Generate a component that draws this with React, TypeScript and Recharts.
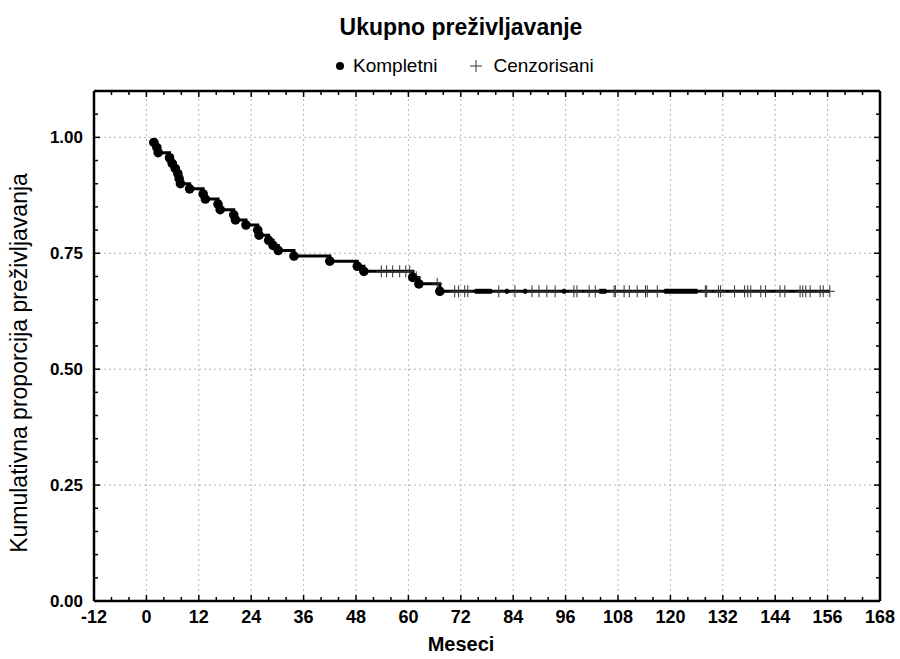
import React from "react";
import { ComposedChart, Line, Scatter, XAxis, YAxis, ReferenceLine } from "recharts";

// Kaplan-Meier: completed cases (events) and censored cases
const eventMonths = [1.7, 2.4, 2.7, 5.3, 5.9, 6.6, 7.2, 7.5, 7.8, 9.9, 13.0, 13.5, 16.4, 16.9, 20.0, 20.4, 22.8, 25.5, 25.8, 28.0, 29.0, 30.2, 33.8, 42.0, 48.3, 49.8, 61.0, 62.4, 67.2];
const eventSurvival = [0.989, 0.978, 0.967, 0.956, 0.944, 0.933, 0.922, 0.911, 0.9, 0.889, 0.878, 0.867, 0.856, 0.844, 0.833, 0.822, 0.811, 0.8, 0.789, 0.778, 0.767, 0.756, 0.744, 0.733, 0.722, 0.711, 0.698, 0.684, 0.668];
const censorMonths = [53.8, 55.0, 56.4, 58.0, 59.4, 60.3, 61.8, 66.6, 70.6, 71.5, 72.9, 73.6, 80.7, 84.4, 88.3, 89.9, 91.7, 93.6, 97.9, 98.6, 101.4, 102.8, 107.1, 107.4, 109.4, 110.6, 112.4, 114.3, 114.7, 117.0, 128.0, 128.3, 131.0, 131.5, 134.7, 137.0, 137.7, 138.4, 140.7, 141.8, 145.1, 146.2, 149.7, 150.3, 151.0, 152.0, 154.3, 155.0, 156.5];
// stretches where censored marks pile up into a solid bar
const denseCensorRuns = [
  { from: 75.2, to: 79.1 },
  { from: 82.2, to: 82.9 },
  { from: 86.4, to: 87.1 },
  { from: 95.3, to: 96.0 },
  { from: 103.7, to: 105.3 },
  { from: 118.6, to: 126.2 },
];

const xLabels = [-12, 0, 12, 24, 36, 48, 60, 72, 84, 96, 108, 120, 132, 144, 156, 168];
const xTicks = [-12, -8, -4, 0, 4, 8, 12, 16, 20, 24, 28, 32, 36, 40, 44, 48, 52, 56, 60, 64, 68, 72, 76, 80, 84, 88, 92, 96, 100, 104, 108, 112, 116, 120, 124, 128, 132, 136, 140, 144, 148, 152, 156, 160, 164, 168];
const yLabels = [0, 0.25, 0.5, 0.75, 1.0];
const yTicks = [0, 0.05, 0.1, 0.15, 0.2, 0.25, 0.3, 0.35, 0.4, 0.45, 0.5, 0.55, 0.6, 0.65, 0.7, 0.75, 0.8, 0.85, 0.9, 0.95, 1.0, 1.05, 1.1];
const xGrid = [0, 12, 24, 36, 48, 60, 72, 84, 96, 108, 120, 132, 144, 156];

const survivalAt = (t: number) => {
  let s = 1;
  eventMonths.forEach((m, i) => {
    if (m <= t) s = eventSurvival[i];
  });
  return s;
};

const events = eventMonths.map((t, i) => ({ t, s: eventSurvival[i] }));
const censored = censorMonths.map((t) => ({ t, s: survivalAt(t) }));
const curve = [...events, ...censored].sort((a, b) => a.t - b.t);

const tickFont = "'Liberation Sans Narrow', 'Liberation Sans', Arial, sans-serif";
const font = "'Liberation Sans', Arial, sans-serif";
const frame = { stroke: "#000", strokeWidth: 2.5 };

const BottomTick = (props: any) => {
  const { x, y, payload } = props;
  const major = xLabels.includes(payload.value);
  return (
    <g>
      <line x1={x} y1={y} x2={x} y2={y - (major ? 6 : 4)} stroke="#000" strokeWidth={1.5} />
      {major && (
        <text x={x} y={y + 22} textAnchor="middle" fontFamily={tickFont} fontWeight="bold" fontSize={18} fill="#000">
          {payload.value}
        </text>
      )}
    </g>
  );
};

const TopTick = (props: any) => {
  const { x, y, payload } = props;
  const major = xLabels.includes(payload.value);
  return <line x1={x} y1={y} x2={x} y2={y + (major ? 6 : 4)} stroke="#000" strokeWidth={1.5} />;
};

const LeftTick = (props: any) => {
  const { x, y, payload } = props;
  const major = yLabels.includes(payload.value);
  return (
    <g>
      <line x1={x} y1={y} x2={x + (major ? 6 : 4)} y2={y} stroke="#000" strokeWidth={1.5} />
      {major && (
        <text x={x - 11} y={y} dy="0.36em" textAnchor="end" fontFamily={font} fontWeight="bold" fontSize={17} fill="#000">
          {payload.value.toFixed(2)}
        </text>
      )}
    </g>
  );
};

const RightTick = (props: any) => {
  const { x, y, payload } = props;
  const major = yLabels.includes(payload.value);
  return <line x1={x} y1={y} x2={x - (major ? 6 : 4)} y2={y} stroke="#000" strokeWidth={1.5} />;
};

const Dot = (props: any) => <circle cx={props.cx} cy={props.cy} r={4.8} fill="#000" />;

const Plus = (props: any) => (
  <g stroke="#333" strokeWidth={1}>
    <line x1={props.cx} y1={props.cy - 6} x2={props.cx} y2={props.cy + 6} />
    <line x1={props.cx - 5} y1={props.cy} x2={props.cx + 5} y2={props.cy} />
  </g>
);

const App = () => {
  return (
    <div style={{ position: "absolute", left: 0, top: 0, width: 900, height: 659, background: "#fff" }}>
      <div
        style={{
          position: "absolute",
          top: 14,
          left: 0,
          width: 922,
          textAlign: "center",
          fontFamily: font,
          fontWeight: "bold",
          fontSize: 23,
        }}
      >
        Ukupno preživljavanje
      </div>
      <div
        style={{
          position: "absolute",
          top: 55,
          left: 333,
          display: "flex",
          alignItems: "center",
          fontFamily: font,
          fontSize: 19,
        }}
      >
        <svg width={14} height={22}>
          <circle cx={7} cy={11} r={4} fill="#000" />
        </svg>
        <span style={{ marginLeft: 6 }}>Kompletni</span>
        <svg width={20} height={22} style={{ marginLeft: 28 }}>
          <line x1={10} y1={5} x2={10} y2={17} stroke="#333" strokeWidth={1} />
          <line x1={4} y1={11} x2={16} y2={11} stroke="#333" strokeWidth={1} />
        </svg>
        <span style={{ marginLeft: 8 }}>Cenzorisani</span>
      </div>
      <div
        style={{
          position: "absolute",
          left: 19,
          top: 363,
          transform: "translate(-50%, -50%) rotate(-90deg)",
          whiteSpace: "nowrap",
          fontFamily: font,
          fontSize: 23,
        }}
      >
        Kumulativna proporcija preživljavanja
      </div>
      <div
        style={{
          position: "absolute",
          top: 633,
          left: 0,
          width: 922,
          textAlign: "center",
          fontFamily: font,
          fontWeight: "bold",
          fontSize: 20,
        }}
      >
        Meseci
      </div>
      <ComposedChart width={900} height={659} margin={{ top: 90, right: 19, bottom: 0, left: 0 }}>
        <XAxis
          dataKey="t"
          type="number"
          domain={[-12, 168]}
          allowDataOverflow
          ticks={xTicks}
          interval={0}
          tickSize={0}
          tickMargin={0}
          tickLine={false}
          tick={BottomTick}
          height={58}
          axisLine={frame}
        />
        <XAxis
          xAxisId="top"
          orientation="top"
          dataKey="t"
          type="number"
          domain={[-12, 168]}
          allowDataOverflow
          ticks={xTicks}
          interval={0}
          tickSize={0}
          tickMargin={0}
          tickLine={false}
          tick={TopTick}
          height={1}
          axisLine={frame}
        />
        <YAxis
          type="number"
          domain={[0, 1.1]}
          allowDataOverflow
          ticks={yTicks}
          interval={0}
          tickSize={0}
          tickMargin={0}
          tickLine={false}
          tick={LeftTick}
          width={94}
          axisLine={frame}
        />
        <YAxis
          yAxisId="right"
          orientation="right"
          type="number"
          domain={[0, 1.1]}
          allowDataOverflow
          ticks={yTicks}
          interval={0}
          tickSize={0}
          tickMargin={0}
          tickLine={false}
          tick={RightTick}
          width={1}
          axisLine={frame}
        />
        {xGrid.map((v) => (
          <ReferenceLine key={"gx" + v} x={v} stroke="#b4b4b4" strokeDasharray="2 3" />
        ))}
        {yLabels.slice(1).map((v) => (
          <ReferenceLine key={"gy" + v} y={v} stroke="#b4b4b4" strokeDasharray="2 3" />
        ))}
        <Line
          data={curve}
          dataKey="s"
          type="stepAfter"
          stroke="#000"
          strokeWidth={3}
          dot={false}
          activeDot={false}
          isAnimationActive={false}
        />
        {denseCensorRuns.map((r, i) => (
          <Line
            key={"run" + i}
            data={[
              { t: r.from, s: survivalAt(r.from) },
              { t: r.to, s: survivalAt(r.to) },
            ]}
            dataKey="s"
            stroke="#000"
            strokeWidth={5}
            dot={false}
            activeDot={false}
            isAnimationActive={false}
          />
        ))}
        <Scatter data={censored} dataKey="s" shape={Plus} isAnimationActive={false} />
        <Scatter data={events} dataKey="s" shape={Dot} isAnimationActive={false} />
      </ComposedChart>
    </div>
  );
};

export default App;
